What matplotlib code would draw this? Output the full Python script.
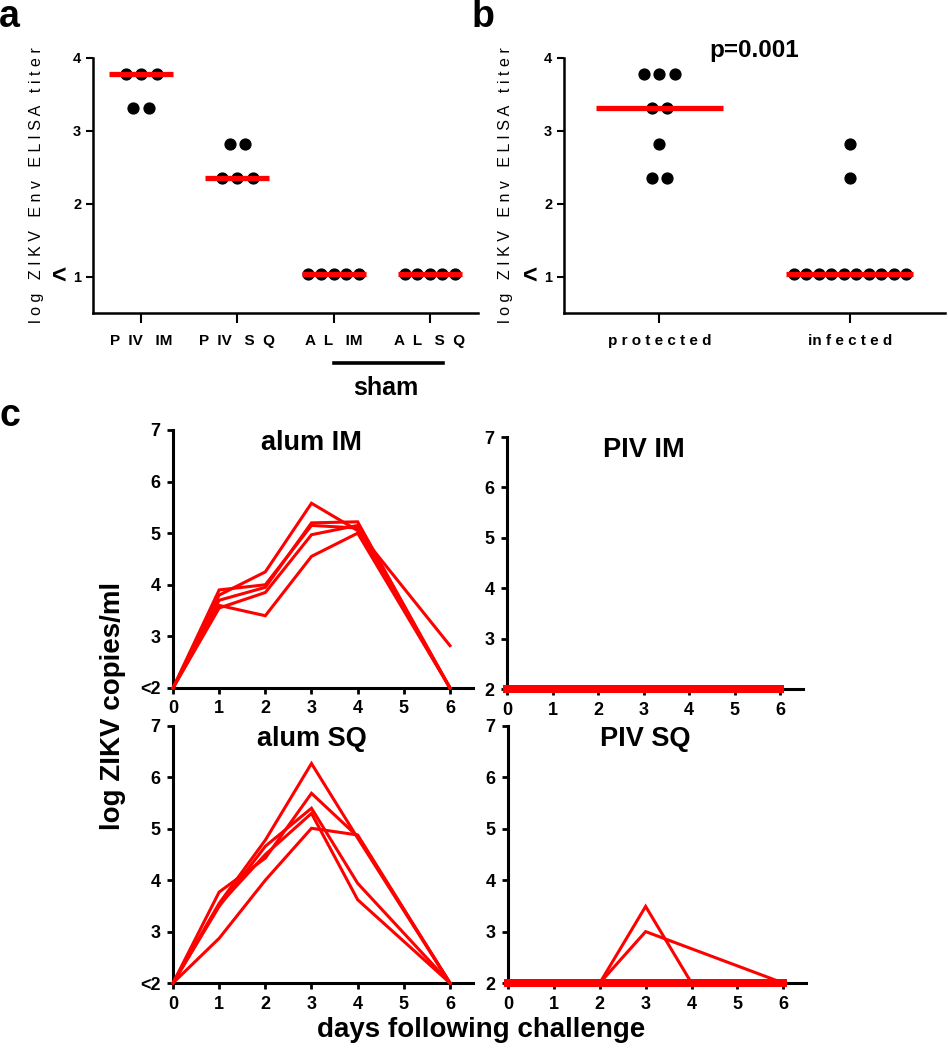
import numpy as np
import matplotlib.pyplot as plt

plt.rcParams['font.family'] = ['Liberation Sans', 'DejaVu Sans']
plt.rcParams['font.weight'] = 'bold'

RED = '#ff0000'

# ---- panel a: ELISA titer by group
a_groups = ['P  IV   IM', 'P  IV   S  Q', 'A  L   IM', 'A  L   S  Q']
a_titers = [[3.78, 3.78, 3.78, 3.31, 3.31],
            [2.82, 2.82, 2.35, 2.35, 2.35],
            [1.04, 1.04, 1.04, 1.04, 1.04],
            [1.04, 1.04, 1.04, 1.04, 1.04]]

# ---- panel b: titer by outcome
b_groups = ['p r o t e c t e d', 'in f e c t e d']
b_titers = [[3.78, 3.78, 3.78, 3.31, 3.31, 2.82, 2.35, 2.35],
            [2.82, 2.35] + [1.04] * 10]

# ---- panel c: viral load after challenge
days = [0, 1, 2, 3, 4, 6]
alum_im = [[2, 3.90, 4.00, 5.15, 5.10, 2],
           [2, 3.80, 4.25, 5.58, 5.05, 2.82],
           [2, 3.70, 3.95, 5.20, 5.22, 2],
           [2, 3.60, 3.40, 4.55, 5.00, 2],
           [2, 3.55, 3.85, 4.97, 5.15, 2]]
piv_im = [[2, 2, 2, 2, 2, 2]] * 5
alum_sq = [[2, 2.87, 4.00, 5.01, 4.88, 2],
           [2, 3.55, 4.78, 6.27, 4.82, 2],
           [2, 3.77, 4.43, 5.69, 4.85, 2],
           [2, 3.49, 4.66, 5.40, 3.94, 2],
           [2, 3.52, 4.50, 5.30, 3.62, 2]]
piv_sq = [[2, 2, 2, 3.49, 2, 2],
          [2, 2, 2, 3.00, None, 2],
          [2, 2, 2, 2, 2, 2],
          [2, 2, 2, 2, 2, 2],
          [2, 2, 2, 2, 2, 2]]

fig = plt.figure(figsize=(9.48, 10.5), dpi=100)


def scatter_panel(ax, groups, titers, px_per_unit, label_x):
    for i, vals in enumerate(titers):
        vals = np.array(vals)
        for v in np.unique(vals):
            n = int(np.sum(vals == v))
            step = (15.5 if n <= 3 else 12.6) / px_per_unit
            xs = i + (np.arange(n) - (n - 1) / 2) * step
            ax.plot(xs, [v] * n, 'o', color='k', ms=7.8, zorder=3, clip_on=False)
        ax.plot([i - 1 / 3, i + 1 / 3], [np.median(vals)] * 2, color=RED,
                lw=3.8, solid_capstyle='butt', zorder=4)
    ax.set_xlim(-0.5, len(groups) - 0.5)
    ax.set_ylim(0.5, 4)
    ax.set_yticks([1, 2, 3, 4])
    ax.set_xticks(range(len(groups)))
    ax.set_xticklabels(groups, fontsize=11)
    ax.tick_params(axis='y', labelsize=10.5, width=1.5, length=5)
    ax.tick_params(axis='x', width=1.5, length=7, pad=8)
    for s in ['top', 'right']:
        ax.spines[s].set_visible(False)
    for s in ['left', 'bottom']:
        ax.spines[s].set_linewidth(1.8)
    ax.set_ylabel('l o g   Z I K V   E n v   E L I S A   t i t e r', fontsize=11.5)
    ax.yaxis.set_label_coords(label_x, 0.5)
    ax.annotate('<', xy=(0, 1), xycoords=('axes fraction', 'data'), xytext=(-24, 0),
                textcoords='offset points', fontsize=18, ha='center', va='center')


ax_a = fig.add_axes([0.0981, 0.7019, 0.4061, 0.2429])
scatter_panel(ax_a, a_groups, a_titers, 96, -0.128)
ax_a.plot([2, 3.14], [-0.196, -0.196], color='k', lw=2.6, clip_on=False,
          transform=ax_a.get_xaxis_transform())
ax_a.text(2.54, -0.293, 'sham', fontsize=18, ha='center', va='center',
          transform=ax_a.get_xaxis_transform())

ax_b = fig.add_axes([0.595, 0.7019, 0.4019, 0.2429])
scatter_panel(ax_b, b_groups, b_titers, 192, -0.133)
ax_b.text(0.5, 1.03, 'p=0.001', fontsize=17.5, ha='center', va='center',
          transform=ax_b.get_xaxis_transform())


def line_panel(ax, series, title, less_than):
    for vals in series:
        pts = [(d, v) for d, v in zip(days, vals) if v is not None]
        xs, ys = zip(*pts)
        flat = all(v == 2 for v in ys)
        ax.plot(xs, ys, color=RED, lw=5.5 if flat else 2.2,
                solid_joinstyle='miter', clip_on=False, zorder=3)
    ax.set_xlim(0, 6.5)
    ax.set_ylim(2, 7)
    ax.set_xticks(range(7))
    ax.set_yticks(range(2, 8))
    ax.set_yticklabels(['<2' if less_than else '2'] + [str(v) for v in range(3, 8)])
    ax.tick_params(labelsize=13, width=2, length=4, pad=5)
    for s in ['top', 'right']:
        ax.spines[s].set_visible(False)
    for s in ['left', 'bottom']:
        ax.spines[s].set_linewidth(2.2)
    ax.text(3, 0.95, title, fontsize=19.5, ha='center', va='center',
            transform=ax.get_xaxis_transform())


ax_tl = fig.add_axes([0.1825, 0.3448, 0.3165, 0.2457])
line_panel(ax_tl, alum_im, 'alum IM', True)
ax_tr = fig.add_axes([0.5348, 0.3438, 0.3122, 0.2400])
line_panel(ax_tr, piv_im, 'PIV IM', False)
ax_bl = fig.add_axes([0.1825, 0.0638, 0.3165, 0.2448])
line_panel(ax_bl, alum_sq, 'alum SQ', True)
ax_br = fig.add_axes([0.5359, 0.0638, 0.3145, 0.2448])
line_panel(ax_br, piv_sq, 'PIV SQ', False)

fig.text(0.119, 0.3276, 'log ZIKV copies/ml', rotation=90, fontsize=20,
         ha='center', va='center')
fig.text(0.507, 0.019, 'days following challenge', fontsize=20,
         ha='center', va='center')

fig.text(0.010, 0.984, 'a', fontsize=27, ha='center', va='center')
fig.text(0.509, 0.984, 'b', fontsize=27, ha='center', va='center')
fig.text(0.010, 0.604, 'c', fontsize=27, ha='center', va='center')

fig.savefig('out.png', dpi=100)
